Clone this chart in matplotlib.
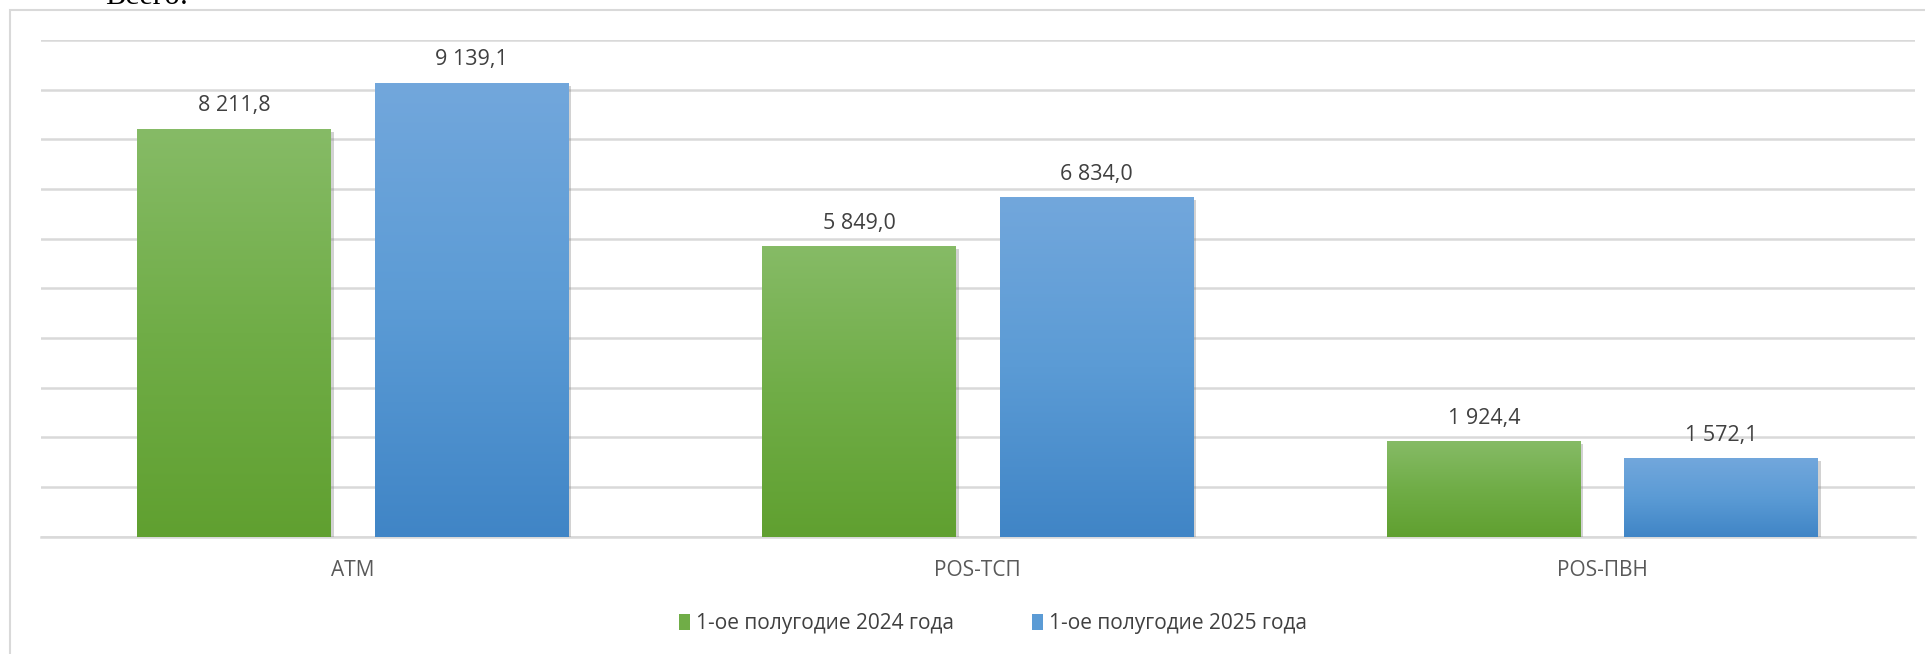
import numpy as np
import matplotlib
matplotlib.use("Agg")
import matplotlib.pyplot as plt
from matplotlib.patches import Rectangle, Patch
from matplotlib.colors import LinearSegmentedColormap
import matplotlib.patheffects as pe

categories = ["ATM", "POS-ТСП", "POS-ПВН"]
series_names = ["1-ое полугодие 2024 года", "1-ое полугодие 2025 года"]
values_2024 = [8211.8, 5849.0, 1924.4]
values_2025 = [9139.1, 6834.0, 1572.1]

green_grad = ["#86BB66", "#70AD47", "#60A030"]
blue_grad = ["#72A7DC", "#5B9BD5", "#4085C6"]


def fmt(v):
	s = "{:,.1f}".format(v)
	return s.replace(",", " ").replace(".", ",")


W, H = 1925, 654
fig = plt.figure(figsize=(W / 100, H / 100), dpi=100)
plt.rcParams['font.family'] = ['Open Sans', 'DejaVu Sans']

# outer chart frame
fig.patches.append(Rectangle((10 / W, -0.1), 1.2, (H - 10) / H + 0.1, transform=fig.transFigure,
	fill=False, edgecolor="#D9D9D9", linewidth=1.5))
fig.text(105 / W, 1 - 4 / H, "Всего:", family="Liberation Serif", fontsize=22, va="baseline", ha="left", color="black")

ax = fig.add_axes([40.5 / W, (H - 536.5) / H, 1874.5 / W, 496.5 / H])
x = np.arange(len(categories))
bw = 0.31
off = 0.19

grad = np.linspace(0, 1, 256).reshape(-1, 1)
for vals, cols, sign in [(values_2024, green_grad, -1), (values_2025, blue_grad, 1)]:
	cmap = LinearSegmentedColormap.from_list("g", cols[::-1])
	bars = ax.bar(x + sign * off, vals, bw, color=cols[1], zorder=3, linewidth=0)
	for b, v in zip(bars, vals):
		b.set_path_effects([pe.SimplePatchShadow(offset=(2, -2), shadow_rgbFace="#808080", alpha=0.35), pe.Normal()])
		im = ax.imshow(grad, cmap=cmap, origin="lower", aspect="auto", zorder=4,
			extent=[b.get_x(), b.get_x() + b.get_width(), 0, v])
		im.set_clip_path(b)
		ax.annotate(fmt(v), (b.get_x() + b.get_width() / 2, v), xytext=(0, 12.5), textcoords="offset points",
			ha="center", va="baseline", fontsize=15.5, color="#404040", zorder=5)

ax.set_xlim(-0.5, 2.5)
ax.set_ylim(0, 10000)
ax.set_yticks(np.arange(0, 10001, 1000))
ax.yaxis.grid(True, color="#D9D9D9", linewidth=1.8, zorder=0)
ax.set_axisbelow(True)
ax.tick_params(axis="y", left=False, labelleft=False)
ax.set_xticks(x)
ax.set_xticklabels(categories, fontsize=15, color="#595959")
ax.tick_params(axis="x", length=0, pad=17)
for s in ["top", "right", "left"]:
	ax.spines[s].set_visible(False)
ax.spines["bottom"].set_color("#D9D9D9")
ax.spines["bottom"].set_linewidth(1.8)

handles = [Patch(facecolor=green_grad[1]), Patch(facecolor=blue_grad[1])]
fig.legend(handles, series_names, loc="center", bbox_to_anchor=(993 / W, (H - 624) / H), ncol=2,
	frameon=False, fontsize=15, handlelength=0.55, handleheight=0.8, handletextpad=0.3, columnspacing=3.7,
	labelcolor="#404040")

fig.savefig("out.png", dpi=100)
